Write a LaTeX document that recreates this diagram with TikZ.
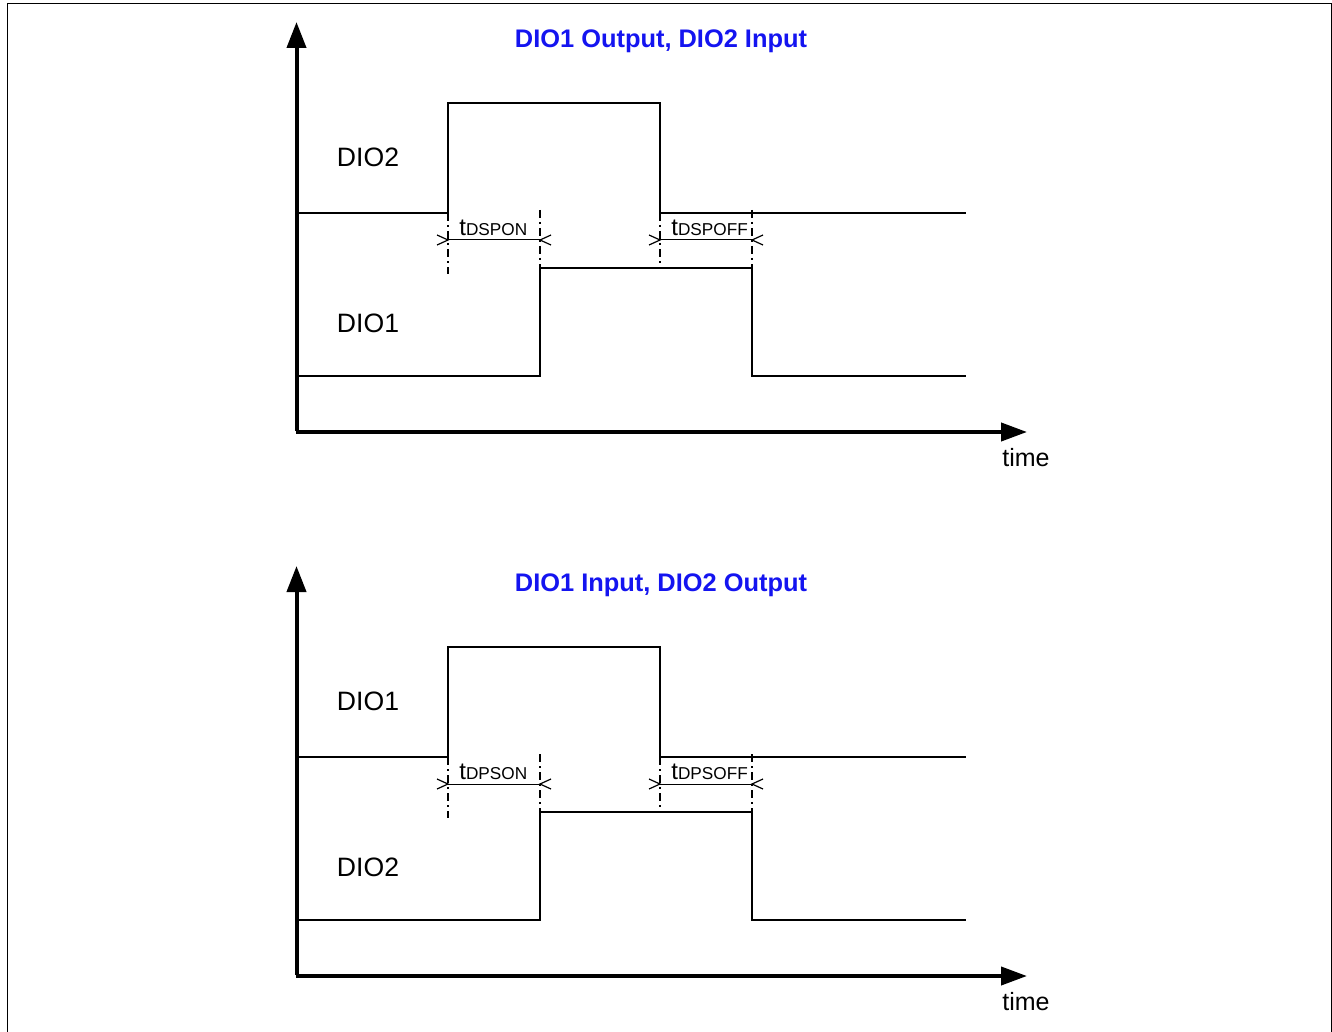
\documentclass[tikz,border=0pt]{standalone}
\usepackage{fontspec}
\setmainfont{Liberation Sans}
\usetikzlibrary{arrows.meta}
\definecolor{titleblue}{RGB}{20,20,240}
\tikzset{
  axisline/.style={line width=2pt},
  sigline/.style={line width=1.2pt},
  dashdot/.style={line width=1.3pt, dash pattern=on 4pt off 2pt on 1pt off 2pt},
  dimline/.style={line width=0.5pt},
  barb/.style={line width=0.6pt},
  lbl/.style={inner sep=0pt, font=\fontsize{13.3}{15}\selectfont},
  tlbl/.style={inner sep=0pt, font=\fontsize{12.5}{14}\selectfont},
  ttl/.style={inner sep=0pt, text=titleblue, font=\fontsize{12.7}{14}\selectfont\bfseries},
}
\newcommand{\tsub}[1]{{\fontsize{12}{13}\selectfont t}{\fontsize{8.6}{9}\selectfont #1}}
\newcommand{\timingpanel}[5]{%
  % #1 title, #2 upper label, #3 lower label, #4 left sub, #5 right sub
  \node[ttl] (title) at (661,41) {#1};
  \draw[axisline,-{Triangle[length=13pt,width=9.5pt]}] (296.5,431) -- (296.5,22);
  \draw[axisline,-{Triangle[length=13pt,width=9pt]}] (295.5,432) -- (1027,432);
  \node[tlbl] (time) at (1026,458) {time};
  \node[lbl] (up) at (368,157) {#2};
  \node[lbl] (lo) at (368,323) {#3};
  \draw[sigline] (298,213) -- (448,213) -- (448,103) -- (660,103) -- (660,213) -- (966,213);
  \draw[sigline] (298,376) -- (540,376) -- (540,268) -- (752,268) -- (752,376) -- (966,376);
  \draw[dashdot] (448,213) -- (448,274);
  \draw[dashdot] (540,210) -- (540,268);
  \draw[dashdot] (660,213) -- (660,268);
  \draw[dashdot] (752,210) -- (752,268);
  \draw[dimline] (448,240) -- (540,240);
  \draw[dimline] (660,240) -- (752,240);
  \draw[barb] (437,235) -- (448,240) -- (437,245);
  \draw[barb] (551,235) -- (540,240) -- (551,245);
  \draw[barb] (649,235) -- (660,240) -- (649,245);
  \draw[barb] (763,235) -- (752,240) -- (763,245);
  \node[lbl, anchor=base west] (dl) at (459,235) {\tsub{#4}};
  \node[lbl, anchor=base west] (dr) at (671,235) {\tsub{#5}};
}
\begin{document}
\begin{tikzpicture}[x=0.5pt,y=-0.5pt]
  \useasboundingbox (0,0) rectangle (1332,1032);
  \draw[line width=0.5pt] (7,1032) -- (7,4) -- (1331,4) -- (1331,1032);
  \begin{scope}
    \timingpanel{DIO1 Output, DIO2 Input}{DIO2}{DIO1}{DSPON}{DSPOFF}
  \end{scope}
  \begin{scope}[shift={(0,544)}]
    \timingpanel{DIO1 Input, DIO2 Output}{DIO1}{DIO2}{DPSON}{DPSOFF}
  \end{scope}
\end{tikzpicture}
\end{document}
